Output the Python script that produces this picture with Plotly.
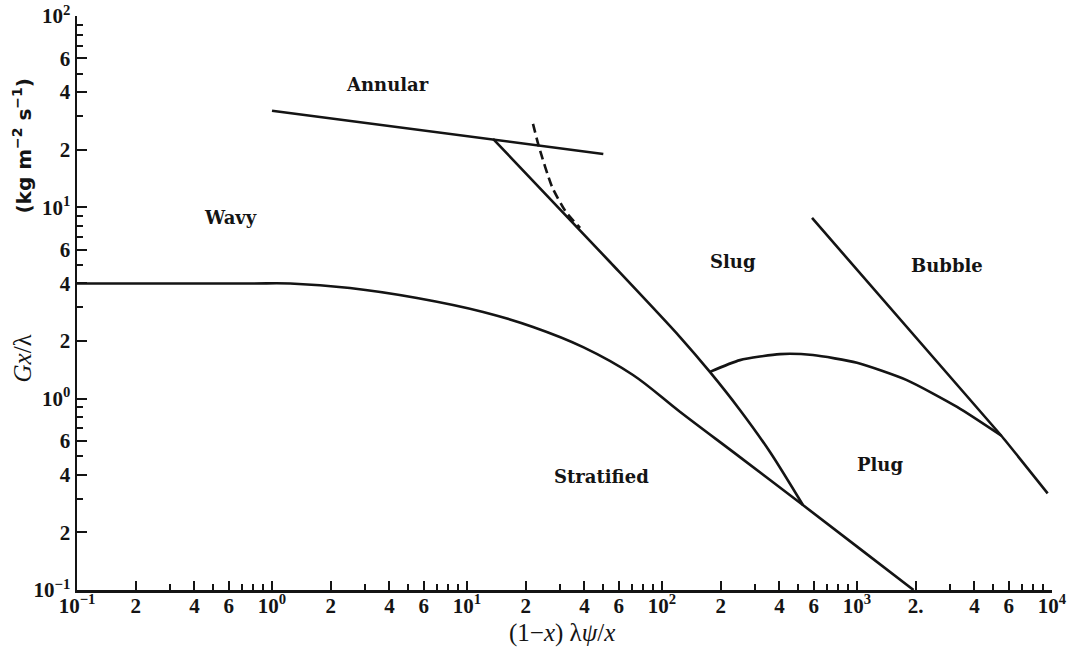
import math
import plotly.graph_objects as go

# ---------------- data ----------------
annular_x = [1.0, 50.0]
annular_y = [32.0, 19.0]

slug_x = [13.6, 54.1, 123.7, 176.0, 251.0, 358.0, 528.0]
slug_y = [22.8, 5.18, 2.10, 1.38, 0.873, 0.526, 0.278]

dashed_x = [21.8, 23.4, 27.3, 32.2, 38.0]
dashed_y = [27.3, 20.7, 12.8, 9.45, 7.8]

wavy_x = [0.1, 0.77, 1.24, 2.51, 5.54, 12.1, 21.8, 39.4, 71.0, 124.0, 251.0, 528.0, 1036.0, 1950.0]
wavy_y = [4.0, 4.0, 4.0, 3.79, 3.36, 2.84, 2.37, 1.86, 1.33, 0.852, 0.495, 0.278, 0.164, 0.1]

plug_x = [176.0, 251.0, 403.0, 594.0, 1000.0, 1800.0, 3260.0, 5500.0]
plug_y = [1.38, 1.59, 1.71, 1.69, 1.54, 1.25, 0.905, 0.64]

bubble_x = [588.0, 5500.0, 9500.0]
bubble_y = [8.8, 0.64, 0.32]

region_names = ["Annular", "Wavy", "Slug", "Bubble", "Plug", "Stratified"]
region_x = [3.91, 0.61, 231.0, 2894.0, 1312.0, 49.0]
region_y = [44.1, 8.8, 5.18, 4.94, 0.455, 0.394]

x_tick_vals = [0.1, 0.2, 0.4, 0.6, 1, 2, 4, 6, 10, 20, 40, 60, 100, 200, 400, 600,
               1000, 2000, 4000, 6000, 10000]
x_tick_text = ["10<sup>−1</sup>", "2", "4", "6", "10<sup>0</sup>", "2", "4", "6",
               "10<sup>1</sup>", "2", "4", "6", "10<sup>2</sup>", "2", "4", "6",
               "10<sup>3</sup>", "2.", "4", "6", "10<sup>4</sup>"]
y_tick_vals = [0.1, 0.2, 0.4, 0.6, 1, 2, 4, 6, 10, 20, 40, 60, 100]
y_tick_text = ["10<sup>−1</sup>", "2", "4", "6", "10<sup>0</sup>", "2", "4", "6",
               "10<sup>1</sup>", "2", "4", "6", "10<sup>2</sup>"]
x_minor_vals = [m * 10.0 ** e for e in range(-1, 4) for m in (3, 5, 7, 8, 9)]
y_minor_vals = [m * 10.0 ** e for e in range(-1, 2) for m in (3, 5, 7, 8, 9)]

# ---------------- figure ----------------
INK = "#141414"
LW = 2.6
fig = go.Figure()

def add_line(xs, ys, dash="solid", shape="spline", smoothing=0.6):
    fig.add_trace(go.Scatter(x=xs, y=ys, mode="lines",
                             line=dict(color=INK, width=LW, dash=dash, shape=shape,
                                       smoothing=smoothing),
                             hoverinfo="skip", showlegend=False))

add_line(annular_x, annular_y, shape="linear")
add_line(slug_x, slug_y, smoothing=0.8)
add_line(dashed_x, dashed_y, dash="9px,5px")
add_line(wavy_x, wavy_y, smoothing=1.0)
add_line(plug_x, plug_y)
add_line(bubble_x, bubble_y, smoothing=0.3)

# annotations on log axes take log10 coordinates
for name, xv, yv in zip(region_names, region_x, region_y):
    fig.add_annotation(x=math.log10(xv), y=math.log10(yv), xref="x", yref="y",
                       text=name, showarrow=False,
                       font=dict(family="DejaVu Serif", size=18, color=INK, weight="bold"),
                       xanchor="center", yanchor="middle")

tick_font = dict(family="Liberation Serif", size=21, color=INK, weight="bold")

fig.update_xaxes(type="log", range=[-1, 4], tickmode="array", automargin=False,
                 tickvals=x_tick_vals, ticktext=x_tick_text,
                 ticks="inside", ticklen=9, tickwidth=2, tickcolor=INK,
                 showline=True, linecolor=INK, linewidth=2.5, mirror=False,
                 showgrid=False, zeroline=False, tickfont=tick_font,
                 minor=dict(tickvals=x_minor_vals, ticks="inside", ticklen=6,
                            tickwidth=2, tickcolor=INK, showgrid=False))
fig.update_yaxes(type="log", range=[-1, 2], tickmode="array", automargin=False,
                 tickvals=y_tick_vals, ticktext=y_tick_text,
                 ticks="inside", ticklen=10, tickwidth=2, tickcolor=INK,
                 showline=True, linecolor=INK, linewidth=2.5, mirror=False,
                 showgrid=False, zeroline=False, tickfont=tick_font,
                 minor=dict(tickvals=y_minor_vals, ticks="inside", ticklen=6,
                            tickwidth=2, tickcolor=INK, showgrid=False))
try:
    fig.update_xaxes(ticklabelstandoff=-5)
except Exception:
    pass

title_font = dict(family="Liberation Serif", size=25, color=INK)
fig.add_annotation(xref="paper", yref="paper", x=0.497, y=-0.075,
                   text="(1−<i>x</i>) λ<i>ψ</i>/<i>x</i>", showarrow=False,
                   font=title_font, xanchor="center", yanchor="middle")
fig.add_annotation(xref="paper", yref="paper", x=-0.056, y=0.404,
                   text="<i>Gx</i>/λ", showarrow=False, textangle=-90,
                   font=title_font, xanchor="center", yanchor="middle")
fig.add_annotation(xref="paper", yref="paper", x=-0.056, y=0.775,
                   text="(kg m<sup>−2</sup> s<sup>−1</sup>)", showarrow=False, textangle=-90,
                   font=dict(family="DejaVu Sans", size=20, color=INK, weight="bold"),
                   xanchor="center", yanchor="middle")

fig.update_layout(width=1073, height=656, autosize=False,
                  margin=dict(l=77, r=21, t=16, b=66, autoexpand=False),
                  paper_bgcolor="white", plot_bgcolor="white",
                  showlegend=False)

# remove the default page margin so the figure fills the window exactly
fig.write_html("out.html",
               config={"displayModeBar": False, "staticPlot": True},
               post_script="document.body.style.margin='0px';document.body.style.overflow='hidden';")
